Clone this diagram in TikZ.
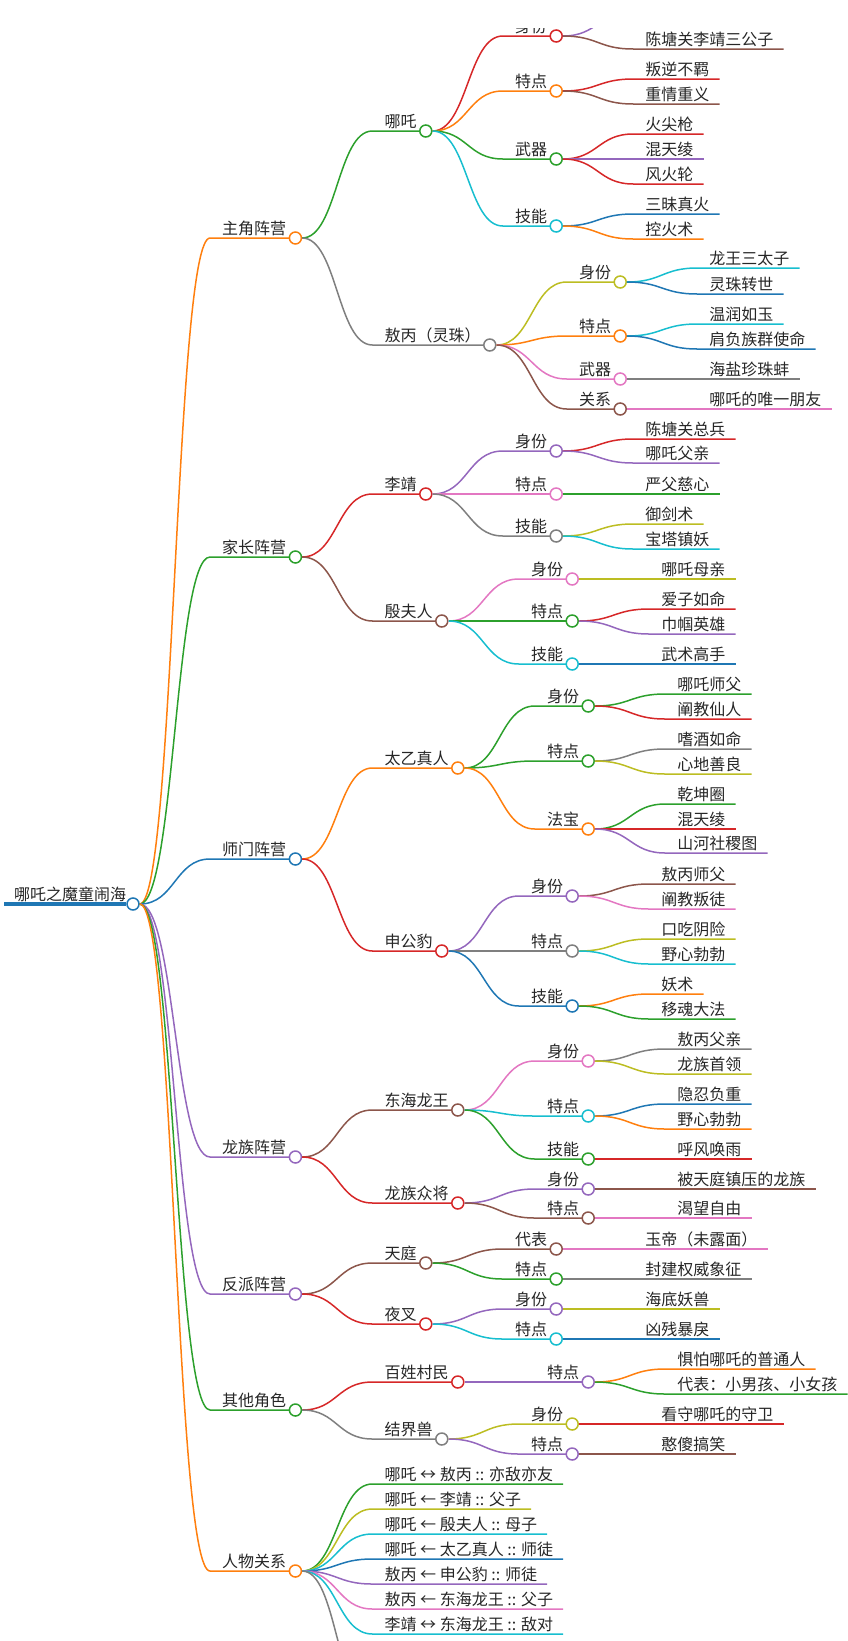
\documentclass[tikz,border=0pt]{standalone}
\usepackage{fontspec}
\setmainfont{Noto Sans CJK SC}
\usetikzlibrary{calc}

\definecolor{cblue}{HTML}{1F77B4}
\definecolor{corange}{HTML}{FF7F0E}
\definecolor{cgreen}{HTML}{2CA02C}
\definecolor{cred}{HTML}{D62728}
\definecolor{cpurple}{HTML}{9467BD}
\definecolor{cbrown}{HTML}{8C564B}
\definecolor{cpink}{HTML}{E377C2}
\definecolor{cgrey}{HTML}{7F7F7F}
\definecolor{colive}{HTML}{BCBD22}
\definecolor{ccyan}{HTML}{17BECF}

\tikzset{
  txt/.style={inner sep=0pt,anchor=base west,text=black!85,font=\fontsize{16}{18}\selectfont},
  edge/.style={line width=1.5pt},
  dot/.style={circle,fill=white,line width=1.5pt,minimum size=12pt,inner sep=0pt}
}

% branch with a circle: name, parent, y, colour, text
\newcommand\mmbranch[5]{%
  \path (#2-c) ++(77,0) coordinate (#1-t);
  \coordinate (#1-s) at (#1-t |- 0,#3);
  \node[txt] (#1) at ($(#1-s)+(12,-4)$) {#5};
  \draw[edge,#4] (#2-c.east) .. controls +(35,0) and +(-35,0) .. (#1-s)
    -- ($(#1-s -| #1.east)+(3,0)$);
  \path (#1-s -| #1.east) ++(9,0) node[dot,draw=#4] (#1-c) {};
}
% leaf: name, parent, y, colour, text
\newcommand\mmleaf[5]{%
  \path (#2-c) ++(77,0) coordinate (#1-t);
  \coordinate (#1-s) at (#1-t |- 0,#3);
  \node[txt] (#1) at ($(#1-s)+(12,-4)$) {#5};
  \draw[edge,#4] (#2-c.east) .. controls +(35,0) and +(-35,0) .. (#1-s)
    -- (#1-s -| #1.east) -- ++(10,0);
}

\begin{document}
\begin{tikzpicture}[x=1pt,y=-1pt]
  \useasboundingbox (0,0) rectangle (848,1641);
  \clip (0,0) rectangle (848,1641);

  % root
  \coordinate (root-s) at (4,904);
  \node[txt] (root) at (14,900) {哪吒之魔童闹海};
  \node[dot,draw=cblue] (root-c) at (133,904) {};
  \draw[cblue,line width=4pt] (root-s) -- (root-c.west);

  % 主角阵营
  \mmbranch{zj}{root}{238}{corange}{主角阵营}
  \mmbranch{nz}{zj}{131}{cgreen}{哪吒}
  \mmbranch{nzsf}{nz}{36}{cred}{身份}
  \coordinate (nzsf1-s) at (633,12);
  \draw[edge,cpurple] (nzsf-c.east) .. controls +(35,0) and +(-35,0) .. (nzsf1-s) -- ++(80,0);
  \mmleaf{nzsf2}{nzsf}{49}{cbrown}{陈塘关李靖三公子}
  \mmbranch{nztd}{nz}{91}{corange}{特点}
  \mmleaf{nztd1}{nztd}{79}{cred}{叛逆不羁}
  \mmleaf{nztd2}{nztd}{104}{cbrown}{重情重义}
  \mmbranch{nzwq}{nz}{159}{cgreen}{武器}
  \mmleaf{nzwq1}{nzwq}{134}{cred}{火尖枪}
  \mmleaf{nzwq2}{nzwq}{159}{cpurple}{混天绫}
  \mmleaf{nzwq3}{nzwq}{184}{cred}{风火轮}
  \mmbranch{nzjn}{nz}{226}{ccyan}{技能}
  \mmleaf{nzjn1}{nzjn}{214}{cblue}{三昧真火}
  \mmleaf{nzjn2}{nzjn}{239}{corange}{控火术}
  \mmbranch{ab}{zj}{345}{cgrey}{敖丙（灵珠）}
  \mmbranch{absf}{ab}{282}{colive}{身份}
  \mmleaf{absf1}{absf}{268}{ccyan}{龙王三太子}
  \mmleaf{absf2}{absf}{294}{cblue}{灵珠转世}
  \mmbranch{abtd}{ab}{336}{corange}{特点}
  \mmleaf{abtd1}{abtd}{324}{ccyan}{温润如玉}
  \mmleaf{abtd2}{abtd}{349}{cblue}{肩负族群使命}
  \mmbranch{abwq}{ab}{379}{cpink}{武器}
  \mmleaf{abwq1}{abwq}{379}{cgrey}{海盐珍珠蚌}
  \mmbranch{abgx}{ab}{409}{cbrown}{关系}
  \mmleaf{abgx1}{abgx}{409}{cpink}{哪吒的唯一朋友}

  % 家长阵营
  \mmbranch{jz}{root}{557}{cgreen}{家长阵营}
  \mmbranch{lj}{jz}{494}{cred}{李靖}
  \mmbranch{ljsf}{lj}{451}{cpurple}{身份}
  \mmleaf{ljsf1}{ljsf}{439}{cred}{陈塘关总兵}
  \mmleaf{ljsf2}{ljsf}{463}{cpurple}{哪吒父亲}
  \mmbranch{ljtd}{lj}{494}{cpink}{特点}
  \mmleaf{ljtd1}{ljtd}{494}{cgreen}{严父慈心}
  \mmbranch{ljjn}{lj}{536}{cgrey}{技能}
  \mmleaf{ljjn1}{ljjn}{524}{colive}{御剑术}
  \mmleaf{ljjn2}{ljjn}{549}{ccyan}{宝塔镇妖}
  \mmbranch{yf}{jz}{621}{cbrown}{殷夫人}
  \mmbranch{yfsf}{yf}{579}{cpink}{身份}
  \mmleaf{yfsf1}{yfsf}{579}{colive}{哪吒母亲}
  \mmbranch{yftd}{yf}{621}{cgreen}{特点}
  \mmleaf{yftd1}{yftd}{609}{cred}{爱子如命}
  \mmleaf{yftd2}{yftd}{634}{cpurple}{巾帼英雄}
  \mmbranch{yfjn}{yf}{664}{ccyan}{技能}
  \mmleaf{yfjn1}{yfjn}{664}{cblue}{武术高手}

  % 师门阵营
  \mmbranch{sm}{root}{859}{cblue}{师门阵营}
  \mmbranch{ty}{sm}{768}{corange}{太乙真人}
  \mmbranch{tysf}{ty}{706}{cgreen}{身份}
  \mmleaf{tysf1}{tysf}{694}{cgreen}{哪吒师父}
  \mmleaf{tysf2}{tysf}{719}{cred}{阐教仙人}
  \mmbranch{tytd}{ty}{761}{cgreen}{特点}
  \mmleaf{tytd1}{tytd}{749}{cgrey}{嗜酒如命}
  \mmleaf{tytd2}{tytd}{774}{colive}{心地善良}
  \mmbranch{tyfb}{ty}{829}{corange}{法宝}
  \mmleaf{tyfb1}{tyfb}{804}{cgreen}{乾坤圈}
  \mmleaf{tyfb2}{tyfb}{829}{cred}{混天绫}
  \mmleaf{tyfb3}{tyfb}{853}{cpurple}{山河社稷图}
  \mmbranch{sg}{sm}{951}{cred}{申公豹}
  \mmbranch{sgsf}{sg}{896}{cpurple}{身份}
  \mmleaf{sgsf1}{sgsf}{884}{cbrown}{敖丙师父}
  \mmleaf{sgsf2}{sgsf}{909}{cpink}{阐教叛徒}
  \mmbranch{sgtd}{sg}{951}{cgrey}{特点}
  \mmleaf{sgtd1}{sgtd}{939}{colive}{口吃阴险}
  \mmleaf{sgtd2}{sgtd}{964}{ccyan}{野心勃勃}
  \mmbranch{sgjn}{sg}{1006}{cblue}{技能}
  \mmleaf{sgjn1}{sgjn}{994}{corange}{妖术}
  \mmleaf{sgjn2}{sgjn}{1019}{cgreen}{移魂大法}

  % 龙族阵营
  \mmbranch{lz}{root}{1157}{cpurple}{龙族阵营}
  \mmbranch{lw}{lz}{1110}{cbrown}{东海龙王}
  \mmbranch{lwsf}{lw}{1061}{cpink}{身份}
  \mmleaf{lwsf1}{lwsf}{1049}{cgrey}{敖丙父亲}
  \mmleaf{lwsf2}{lwsf}{1074}{colive}{龙族首领}
  \mmbranch{lwtd}{lw}{1116}{ccyan}{特点}
  \mmleaf{lwtd1}{lwtd}{1104}{cblue}{隐忍负重}
  \mmleaf{lwtd2}{lwtd}{1129}{corange}{野心勃勃}
  \mmbranch{lwjn}{lw}{1159}{cgreen}{技能}
  \mmleaf{lwjn1}{lwjn}{1159}{cred}{呼风唤雨}
  \mmbranch{lj2}{lz}{1203}{cred}{龙族众将}
  \mmbranch{ljsf9}{lj2}{1189}{cpurple}{身份}
  \mmleaf{ljsf91}{ljsf9}{1189}{cbrown}{被天庭镇压的龙族}
  \mmbranch{ljtd9}{lj2}{1218}{cbrown}{特点}
  \mmleaf{ljtd91}{ljtd9}{1218}{cpink}{渴望自由}

  % 反派阵营
  \mmbranch{fp}{root}{1294}{cpurple}{反派阵营}
  \mmbranch{tt}{fp}{1263}{cbrown}{天庭}
  \mmbranch{ttdb}{tt}{1249}{cbrown}{代表}
  \mmleaf{ttdb1}{ttdb}{1249}{cpink}{玉帝（未露面）}
  \mmbranch{tttd}{tt}{1279}{cgreen}{特点}
  \mmleaf{tttd1}{tttd}{1279}{cgrey}{封建权威象征}
  \mmbranch{yc}{fp}{1324}{cred}{夜叉}
  \mmbranch{ycsf}{yc}{1309}{cpurple}{身份}
  \mmleaf{ycsf1}{ycsf}{1309}{colive}{海底妖兽}
  \mmbranch{yctd}{yc}{1339}{ccyan}{特点}
  \mmleaf{yctd1}{yctd}{1339}{cblue}{凶残暴戾}

  % 其他角色
  \mmbranch{qt}{root}{1410}{cgreen}{其他角色}
  \mmbranch{bx}{qt}{1382}{cred}{百姓村民}
  \mmbranch{bxtd}{bx}{1382}{cpurple}{特点}
  \mmleaf{bxtd1}{bxtd}{1369}{corange}{惧怕哪吒的普通人}
  \mmleaf{bxtd2}{bxtd}{1394}{cgreen}{代表：小男孩、小女孩}
  \mmbranch{jj}{qt}{1439}{cgrey}{结界兽}
  \mmbranch{jjsf}{jj}{1424}{colive}{身份}
  \mmleaf{jjsf1}{jjsf}{1424}{cred}{看守哪吒的守卫}
  \mmbranch{jjtd}{jj}{1454}{cpurple}{特点}
  \mmleaf{jjtd1}{jjtd}{1454}{cbrown}{憨傻搞笑}

  % 人物关系
  \mmbranch{gx}{root}{1571}{corange}{人物关系}
  \mmleaf{gx1}{gx}{1484}{cgreen}{哪吒 ↔ 敖丙 :: 亦敌亦友}
  \mmleaf{gx2}{gx}{1509}{colive}{哪吒 ← 李靖 :: 父子}
  \mmleaf{gx3}{gx}{1534}{ccyan}{哪吒 ← 殷夫人 :: 母子}
  \mmleaf{gx4}{gx}{1559}{cblue}{哪吒 ← 太乙真人 :: 师徒}
  \mmleaf{gx5}{gx}{1584}{cpurple}{敖丙 ← 申公豹 :: 师徒}
  \mmleaf{gx6}{gx}{1609}{cpink}{敖丙 ← 东海龙王 :: 父子}
  \mmleaf{gx7}{gx}{1634}{ccyan}{李靖 ↔ 东海龙王 :: 敌对}
  \coordinate (gx8-s) at (371,1700);
  \draw[edge,cgrey] (gx-c.east) .. controls +(35,0) and +(-35,0) .. (gx8-s);

  % cut-off top edge
  \fill[white] (0,0) rectangle (848,28);
\end{tikzpicture}
\end{document}
